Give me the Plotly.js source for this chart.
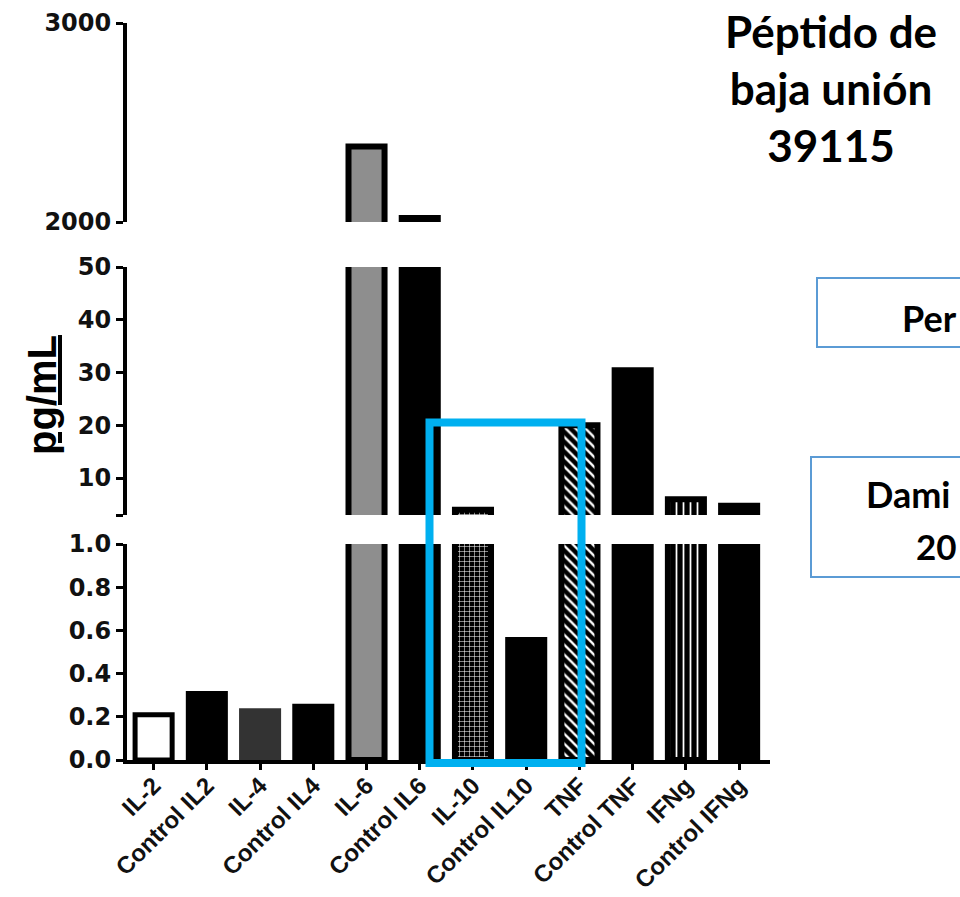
<!DOCTYPE html>
<html><head><meta charset="utf-8">
<script src="https://cdn.plot.ly/plotly-3.0.1.min.js"></script>
<style>html,body{margin:0;padding:0;background:#fff;overflow:hidden}#chart{width:960px;height:897px}</style>
</head><body><div id="chart"></div>
<script>
// ---- data ----
const categories = ['IL-2','Control IL2','IL-4','Control IL4','IL-6','Control IL6','IL-10','Control IL10','TNF','Control TNF','IFNg','Control IFNg'];
const values = [0.21, 0.32, 0.24, 0.26, 2380, 2035, 4.0, 0.57, 20.0, 31, 6.0, 5.3];
const lowTicks = [0, 0.2, 0.4, 0.6, 0.8, 1.0];
const midTicks = [3, 10, 20, 30, 40, 50];
const midTickText = ['', '10', '20', '30', '40', '50'];
const highTicks = [2000, 3000];
const titleText = 'Péptido de<br>baja unión<br>39115';
const boxText1 = 'Per';
const boxText2a = 'Dami';
const boxText2b = '20';
const yTitle = 'pg/mL';

// ---- styles ----
const fillColors = ['#ffffff','#000000','#333333','#000000','#8e8e8e','#000000','#000000','#000000','#000000','#000000','#000000','#000000'];
const patShapes = ['','','','','','','+','','\\','','|',''];
const patFg = ['#fff','#fff','#fff','#fff','#fff','#fff','#e0e0e0','#fff','#ffffff','#fff','#ffffff','#fff'];
const patSize = [6,6,6,6,6,6,5,6,7,6,7,6];
const patSolid = [0.3,0.3,0.3,0.3,0.3,0.3,0.2,0.3,0.33,0.3,0.25,0.3];
const lineW = [5,0,0,0,6,0,6,0,6,0,6,0];
const catPx = 53.2;
const barW = lineW.map(w => 0.79 - w / catPx);

// pixel -> paper helpers (plot area: x 127..770, y 23..760)
const PL = 127, PR = 770, PT = 23, PB = 760;
const px = p => (p - PL) / (PR - PL);
const py = p => (PB - p) / (PB - PT);

function barTrace(yaxis) {
  return {
    type: 'bar', x: categories, y: values, xaxis: 'x', yaxis: yaxis,
    width: barW, showlegend: false, hoverinfo: 'x+y',
    marker: {
      color: fillColors,
      line: {color: '#000', width: lineW},
      pattern: {shape: patShapes, fgcolor: patFg, size: patSize, solidity: patSolid, fillmode: 'overlay', fgopacity: 1}
    }
  };
}

const tickFont = {family: 'DejaVu Sans', size: 24, color: '#111', weight: 700};
const yCommon = {
  showgrid: false, zeroline: false, showline: true, linecolor: '#000', linewidth: 4,
  ticks: 'outside', ticklen: 7, tickwidth: 3, tickcolor: '#000',
  tickfont: tickFont, anchor: 'x', fixedrange: true
};

const layout = {
  width: 960, height: 897,
  margin: {l: PL, r: 960 - PR, t: PT, b: 897 - PB},
  paper_bgcolor: '#fff', plot_bgcolor: 'rgba(0,0,0,0)',
  barmode: 'group',
  xaxis: {
    type: 'category', range: [-0.5, 11.58], anchor: 'y',
    showgrid: false, zeroline: false, showline: true, linecolor: '#000', linewidth: 4,
    ticks: 'outside', ticklen: 6, tickwidth: 3, tickcolor: '#000',
    tickangle: -45, ticklabelstandoff: -8,
    tickfont: {family: 'Liberation Sans', size: 24, color: '#111', weight: 700},
    fixedrange: true
  },
  yaxis: Object.assign({}, yCommon, {domain: [0, py(544)], range: [0, 1.0], tickvals: lowTicks, tickformat: '.1f'}),
  yaxis2: Object.assign({}, yCommon, {domain: [py(515), py(267)], range: [3, 50], tickvals: midTicks, ticktext: midTickText}),
  yaxis3: Object.assign({}, yCommon, {domain: [py(222), 1], range: [2000, 3000], tickvals: highTicks}),
  shapes: [
    {type: 'rect', xref: 'paper', yref: 'paper', x0: px(429.5), x1: px(581.5), y0: py(763), y1: py(422.5),
     line: {color: '#00b0f0', width: 8}, fillcolor: 'rgba(0,0,0,0)'},
    {type: 'rect', xref: 'paper', yref: 'paper', x0: px(817), x1: px(1010), y0: py(347), y1: py(278),
     line: {color: '#5b9bd5', width: 2}, fillcolor: 'rgba(0,0,0,0)'},
    {type: 'rect', xref: 'paper', yref: 'paper', x0: px(811), x1: px(1010), y0: py(577), y1: py(457),
     line: {color: '#5b9bd5', width: 2}, fillcolor: 'rgba(0,0,0,0)'}
  ],
  annotations: [
    {xref: 'paper', yref: 'paper', x: px(831), y: py(88), xanchor: 'center', yanchor: 'middle', showarrow: false,
     text: titleText, align: 'center', font: {family: 'Lato', size: 44, color: '#000', weight: 700}},
    {xref: 'paper', yref: 'paper', x: px(900), y: py(318), xanchor: 'left', yanchor: 'middle', showarrow: false,
     text: boxText1, font: {family: 'Lato', size: 36, color: '#000', weight: 700}},
    {xref: 'paper', yref: 'paper', x: px(864), y: py(494), xanchor: 'left', yanchor: 'middle', showarrow: false,
     text: boxText2a, font: {family: 'Lato', size: 36, color: '#000', weight: 700}},
    {xref: 'paper', yref: 'paper', x: px(914), y: py(546), xanchor: 'left', yanchor: 'middle', showarrow: false,
     text: boxText2b, font: {family: 'Lato', size: 35, color: '#000', weight: 700}},
    {xref: 'paper', yref: 'paper', x: px(42), y: py(395), xanchor: 'center', yanchor: 'middle', showarrow: false,
     textangle: -90, text: '<u>' + yTitle + '</u>', font: {family: 'Liberation Sans', size: 40, color: '#000', weight: 700}}
  ]
};

Plotly.newPlot('chart', [barTrace('y'), barTrace('y2'), barTrace('y3')], layout, {displayModeBar: false, staticPlot: true});
</script>
</body></html>
